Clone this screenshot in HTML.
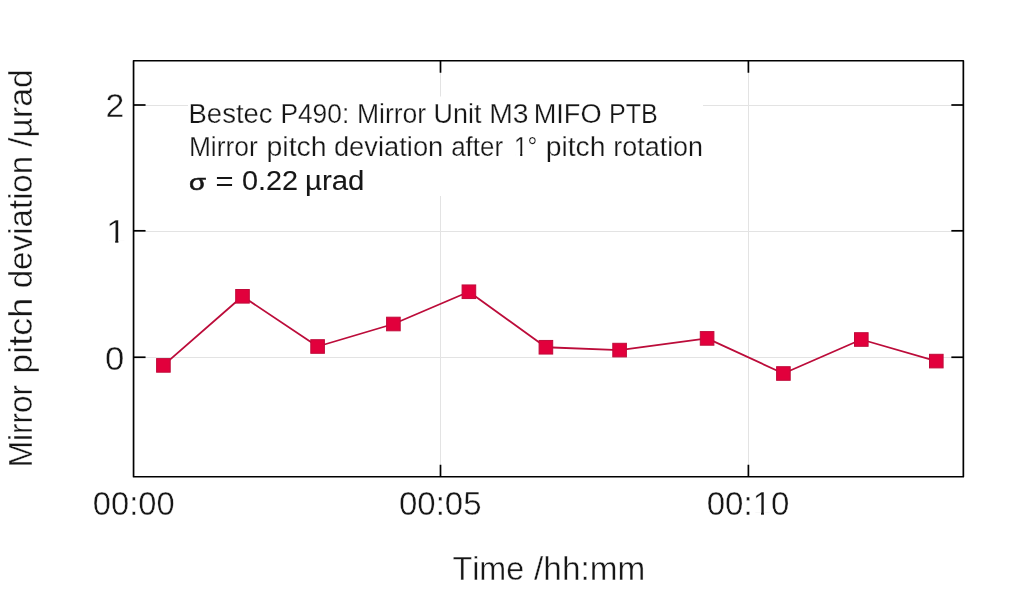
<!DOCTYPE html>
<html lang="en">
<head>
<meta charset="utf-8">
<title>Mirror pitch deviation</title>
<style>
html,body{margin:0;padding:0;background:#fff;}
body{width:1024px;height:589px;overflow:hidden;}
svg{display:block;}
text{font-family:"Liberation Sans",sans-serif;fill:#161616;font-kerning:none;}
.ax{font-size:32.6px;stroke:#fff;stroke-width:0.4px;}
.an{font-size:27px;stroke:#fff;stroke-width:0.25px;}
.an3{font-size:27px;stroke:#161616;stroke-width:0.1px;}
.sg{font-size:21.5px;stroke:#161616;stroke-width:0.5px;}
</style>
</head>
<body>
<svg width="1024" height="589" viewBox="0 0 1024 589">
<rect x="0" y="0" width="1024" height="589" fill="#fff"/>

<g stroke="#e3e3e3" stroke-width="1">
<line x1="133.55" y1="105.5" x2="963.35" y2="105.5"/>
<line x1="133.55" y1="231.5" x2="963.35" y2="231.5"/>
<line x1="133.55" y1="357.5" x2="963.35" y2="357.5"/>
<line x1="440.5" y1="60.75" x2="440.5" y2="476.75"/>
<line x1="748.5" y1="60.75" x2="748.5" y2="476.75"/>
</g>
<rect x="188" y="96.5" width="515" height="99.5" fill="#fff"/>
<polyline fill="none" stroke="#bc0c3a" stroke-width="1.8" stroke-linejoin="round" points="163.4,365.4 242.5,296.3 317.6,346.5 393.4,324.0 468.9,291.75 545.9,347.25 619.6,350.1 707.1,338.4 783.4,373.5 861.3,339.5 936.3,361.1"/>
<g fill="#e2003c" stroke="#c00a3a" stroke-width="1">
<rect x="156.60" y="358.60" width="13.6" height="13.6"/>
<rect x="235.70" y="289.50" width="13.6" height="13.6"/>
<rect x="310.80" y="339.70" width="13.6" height="13.6"/>
<rect x="386.60" y="317.20" width="13.6" height="13.6"/>
<rect x="462.10" y="284.95" width="13.6" height="13.6"/>
<rect x="539.10" y="340.45" width="13.6" height="13.6"/>
<rect x="612.80" y="343.30" width="13.6" height="13.6"/>
<rect x="700.30" y="331.60" width="13.6" height="13.6"/>
<rect x="776.60" y="366.70" width="13.6" height="13.6"/>
<rect x="854.50" y="332.70" width="13.6" height="13.6"/>
<rect x="929.50" y="354.30" width="13.6" height="13.6"/>
</g>
<g stroke="#000" stroke-width="1.7">
<line x1="133.55" y1="105.0" x2="145.55" y2="105.0"/>
<line x1="951.35" y1="105.0" x2="963.35" y2="105.0"/>
<line x1="133.55" y1="230.8" x2="145.55" y2="230.8"/>
<line x1="951.35" y1="230.8" x2="963.35" y2="230.8"/>
<line x1="133.55" y1="357.25" x2="145.55" y2="357.25"/>
<line x1="951.35" y1="357.25" x2="963.35" y2="357.25"/>
<line x1="440.5" y1="60.75" x2="440.5" y2="72.75"/>
<line x1="440.5" y1="464.75" x2="440.5" y2="476.75"/>
<line x1="748.4" y1="60.75" x2="748.4" y2="72.75"/>
<line x1="748.4" y1="464.75" x2="748.4" y2="476.75"/>
</g>
<rect x="133.55" y="60.75" width="829.8" height="416.0" fill="none" stroke="#000" stroke-width="1.7" stroke-linejoin="round"/>
<text class="ax" y="116.9"><tspan x="105.60" textLength="18.80" lengthAdjust="spacingAndGlyphs">2</tspan></text>
<text class="ax" y="243.1"><tspan x="105.99" textLength="20.31" lengthAdjust="spacingAndGlyphs">1</tspan></text>
<rect x="107.97" y="240.06" width="7.20" height="3.84" fill="#fff"/>
<rect x="118.40" y="240.06" width="6.92" height="3.84" fill="#fff"/>
<text class="ax" y="369.5"><tspan x="105.04" textLength="19.31" lengthAdjust="spacingAndGlyphs">0</tspan></text>
<text class="ax" y="515.2"><tspan x="92.82" textLength="81.75" lengthAdjust="spacingAndGlyphs">00:00</tspan></text>
<text class="ax" y="515.2"><tspan x="399.01" textLength="82.57" lengthAdjust="spacingAndGlyphs">00:05</tspan></text>
<text class="ax" y="515.2"><tspan x="706.71" textLength="82.78" lengthAdjust="spacingAndGlyphs">00:10</tspan></text>
<rect x="754.42" y="512.16" width="6.60" height="3.84" fill="#fff"/>
<rect x="763.94" y="512.16" width="6.34" height="3.84" fill="#fff"/>
<text class="ax" y="580.2"><tspan x="452.47" textLength="71.76" lengthAdjust="spacingAndGlyphs">Time</tspan> <tspan x="534.10" textLength="111.10" lengthAdjust="spacingAndGlyphs">/hh:mm</tspan></text>
<text class="ax" transform="translate(32.2 0) rotate(-90)" y="0"><tspan x="-467.29" textLength="82.31" lengthAdjust="spacingAndGlyphs">Mirror</tspan> <tspan x="-373.82" textLength="75.95" lengthAdjust="spacingAndGlyphs">pitch</tspan> <tspan x="-288.29" textLength="132.44" lengthAdjust="spacingAndGlyphs">deviation</tspan> <tspan x="-146.90" textLength="77.68" lengthAdjust="spacingAndGlyphs">/µrad</tspan></text>
<text class="an" y="123.1"><tspan x="188.52" textLength="84.03" lengthAdjust="spacingAndGlyphs">Bestec</tspan> <tspan x="280.41" textLength="68.81" lengthAdjust="spacingAndGlyphs">P490:</tspan> <tspan x="356.90" textLength="69.27" lengthAdjust="spacingAndGlyphs">Mirror</tspan> <tspan x="433.60" textLength="47.82" lengthAdjust="spacingAndGlyphs">Unit</tspan> <tspan x="489.25" textLength="39.32" lengthAdjust="spacingAndGlyphs">M3</tspan> <tspan x="533.65" textLength="67.88" lengthAdjust="spacingAndGlyphs">MIFO</tspan> <tspan x="609.02" textLength="48.83" lengthAdjust="spacingAndGlyphs">PTB</tspan></text>
<text class="an" y="156.4"><tspan x="188.91" textLength="68.75" lengthAdjust="spacingAndGlyphs">Mirror</tspan> <tspan x="266.54" textLength="60.13" lengthAdjust="spacingAndGlyphs">pitch</tspan> <tspan x="333.93" textLength="109.37" lengthAdjust="spacingAndGlyphs">deviation</tspan> <tspan x="451.17" textLength="51.88" lengthAdjust="spacingAndGlyphs">after</tspan> <tspan x="514.02" textLength="23.37" lengthAdjust="spacingAndGlyphs">1°</tspan> <tspan x="545.65" textLength="59.81" lengthAdjust="spacingAndGlyphs">pitch</tspan> <tspan x="613.29" textLength="89.79" lengthAdjust="spacingAndGlyphs">rotation</tspan></text>
<rect x="515.09" y="153.78" width="5.08" height="3.42" fill="#fff"/>
<rect x="522.33" y="153.78" width="4.89" height="3.42" fill="#fff"/>
<text class="an3"><tspan class="sg" x="188.99" y="189.7" textLength="17.08" lengthAdjust="spacingAndGlyphs">σ</tspan> <tspan x="215.44" y="190.6" textLength="18.03" lengthAdjust="spacingAndGlyphs">=</tspan> <tspan x="241.92" y="189.9" textLength="56.07" lengthAdjust="spacingAndGlyphs">0.22</tspan> <tspan x="305.04" y="189.9" textLength="59.40" lengthAdjust="spacingAndGlyphs">µrad</tspan></text>
</svg>
</body>
</html>
